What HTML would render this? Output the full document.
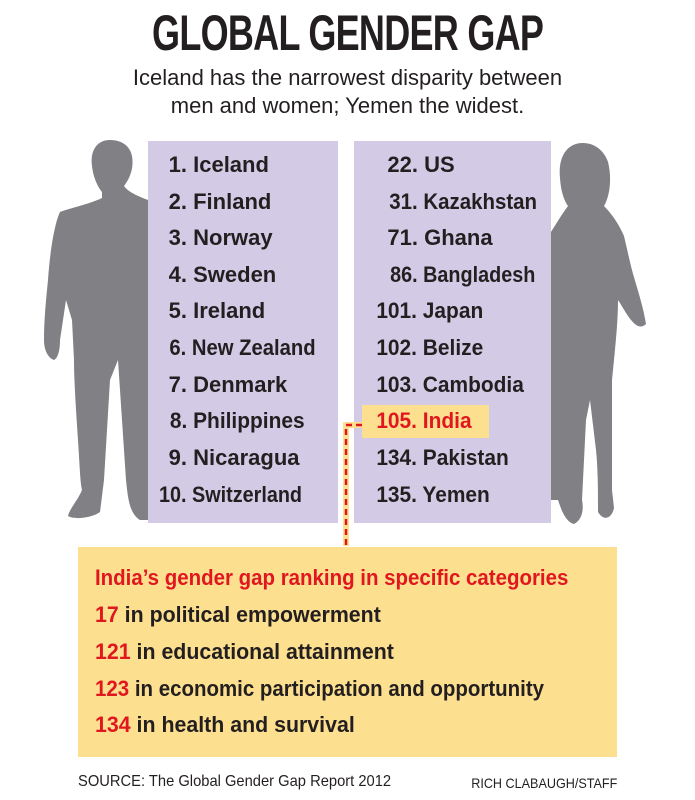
<!DOCTYPE html>
<html><head><meta charset="utf-8"><style>
body{margin:0;width:695px;height:800px;background:#fff;position:relative;overflow:hidden;font-family:"Liberation Sans",sans-serif;color:#231f20}
.a{position:absolute;white-space:nowrap}
.row{position:absolute;font-size:22px;font-weight:bold;white-space:nowrap;transform-origin:left center}
.n{display:inline-block;text-align:right;font-weight:bold}
</style></head><body>
<div class="a" style="left:0;width:695px;top:4px;text-align:center;font-size:50px;font-weight:bold;letter-spacing:-1px"><span style="display:inline-block;transform:scaleX(0.72)">GLOBAL GENDER GAP</span></div>
<div class="a" style="left:0;width:695px;top:64px;text-align:center;font-size:22px;line-height:28px">Iceland has the narrowest disparity between<br>men and women; Yemen the widest.</div>

<svg class="a" style="left:0;top:0" width="695" height="800">
<path fill="#808085" d="M110 140 C96 140 90 152 92 166 C93 176 97 186 102 192 L102 198 C90 204 70 208 60 212 C55 222 50 250 48 280 C46 300 44 320 44 340 C44 350 48 358 54 360 C58 358 60 350 60 340 L66 300 L72 320 L74 360 C74 380 76 410 78 440 C80 470 80 480 82 490 C78 500 70 508 68 516 C74 520 92 518 100 512 L104 480 L110 380 L118 360 L122 420 L126 480 C128 500 130 514 140 520 L148 520 L148 200 C138 196 128 192 124 186 C130 178 134 168 132 156 C130 146 122 140 110 140Z"/>
<path fill="#808085" d="M583 143 C566 143 558 158 560 178 C561 192 564 200 568 206 C562 214 556 224 551 232 L551 500 L558 500 C562 512 566 522 574 524 C582 520 584 510 582 500 L586 420 L590 400 L596 450 C598 470 598 490 598 512 C604 522 612 518 614 508 L612 490 L612 420 L612 380 C616 340 618 320 618 300 C626 312 636 334 646 324 C642 300 634 280 630 262 L624 236 C618 222 610 212 604 206 C610 196 612 178 608 162 C604 150 594 143 583 143Z"/>
<rect x="148" y="141" width="190" height="382" fill="#d3cae5"/>
<rect x="354" y="141" width="197" height="382" fill="#d3cae5"/>
<rect x="362" y="405" width="127" height="33" fill="#fde08f"/>
<rect x="78" y="547" width="539" height="210" fill="#fde08f"/>
<polyline points="362,425 346,425 346,546" fill="none" stroke="#fde08f" stroke-width="6"/>
<polyline points="362,425 346,425 346,546" fill="none" stroke="#e0171f" stroke-width="2.5" stroke-dasharray="6,4"/>
</svg>

<div class="row" style="left:155px;top:152px"><span class="n" style="width:32px">1.</span> Iceland</div>
<div class="row" style="left:155px;top:189px"><span class="n" style="width:32px">2.</span> Finland</div>
<div class="row" style="left:155px;top:225px"><span class="n" style="width:32px">3.</span> Norway</div>
<div class="row" style="left:155px;top:262px"><span class="n" style="width:32px">4.</span> Sweden</div>
<div class="row" style="left:155px;top:298px"><span class="n" style="width:32px">5.</span> Ireland</div>
<div class="row" style="left:155px;top:335px;transform:scaleX(0.92)"><span class="n" style="width:34px">6.</span> New Zealand</div>
<div class="row" style="left:155px;top:372px"><span class="n" style="width:32px">7.</span> Denmark</div>
<div class="row" style="left:155px;top:408px;transform:scaleX(0.95)"><span class="n" style="width:34px">8.</span> Philippines</div>
<div class="row" style="left:155px;top:445px"><span class="n" style="width:32px">9.</span> Nicaragua</div>
<div class="row" style="left:155px;top:482px;transform:scaleX(0.9)"><span class="n" style="width:35px">10.</span> Switzerland</div>

<div class="row" style="left:360px;top:152px"><span class="n" style="width:58px">22.</span> US</div>
<div class="row" style="left:360px;top:189px;transform:scaleX(0.93)"><span class="n" style="width:62px">31.</span> Kazakhstan</div>
<div class="row" style="left:360px;top:225px"><span class="n" style="width:58px">71.</span> Ghana</div>
<div class="row" style="left:360px;top:262px;transform:scaleX(0.9)"><span class="n" style="width:64px">86.</span> Bangladesh</div>
<div class="row" style="left:360px;top:298px;transform:scaleX(0.95)"><span class="n" style="width:60px">101.</span> Japan</div>
<div class="row" style="left:360px;top:335px;transform:scaleX(0.95)"><span class="n" style="width:60px">102.</span> Belize</div>
<div class="row" style="left:360px;top:372px;transform:scaleX(0.95)"><span class="n" style="width:60px">103.</span> Cambodia</div>
<div class="row" style="left:360px;top:408px;color:#e0171f;transform:scaleX(0.95)"><span class="n" style="width:60px">105.</span> India</div>
<div class="row" style="left:360px;top:445px;transform:scaleX(0.95)"><span class="n" style="width:60px">134.</span> Pakistan</div>
<div class="row" style="left:360px;top:482px;transform:scaleX(0.95)"><span class="n" style="width:60px">135.</span> Yemen</div>

<div class="row" style="left:95px;top:565px;color:#e0171f;transform:scaleX(0.93)">India’s gender gap ranking in specific categories</div>
<div class="row" style="left:95px;top:602px;transform:scaleX(0.97)"><span style="color:#e0171f">17</span> in political empowerment</div>
<div class="row" style="left:95px;top:639px;transform:scaleX(0.97)"><span style="color:#e0171f">121</span> in educational attainment</div>
<div class="row" style="left:95px;top:676px;transform:scaleX(0.93)"><span style="color:#e0171f">123</span> in economic participation and opportunity</div>
<div class="row" style="left:95px;top:712px;transform:scaleX(0.97)"><span style="color:#e0171f">134</span> in health and survival</div>

<div class="a" style="left:78px;top:773px;font-size:16px;transform:scaleX(0.92);transform-origin:left">SOURCE: The Global Gender Gap Report 2012</div>
<div class="a" style="right:78px;top:775px;font-size:14px;transform:scaleX(0.9);transform-origin:right">RICH CLABAUGH/STAFF</div>
</body></html>
